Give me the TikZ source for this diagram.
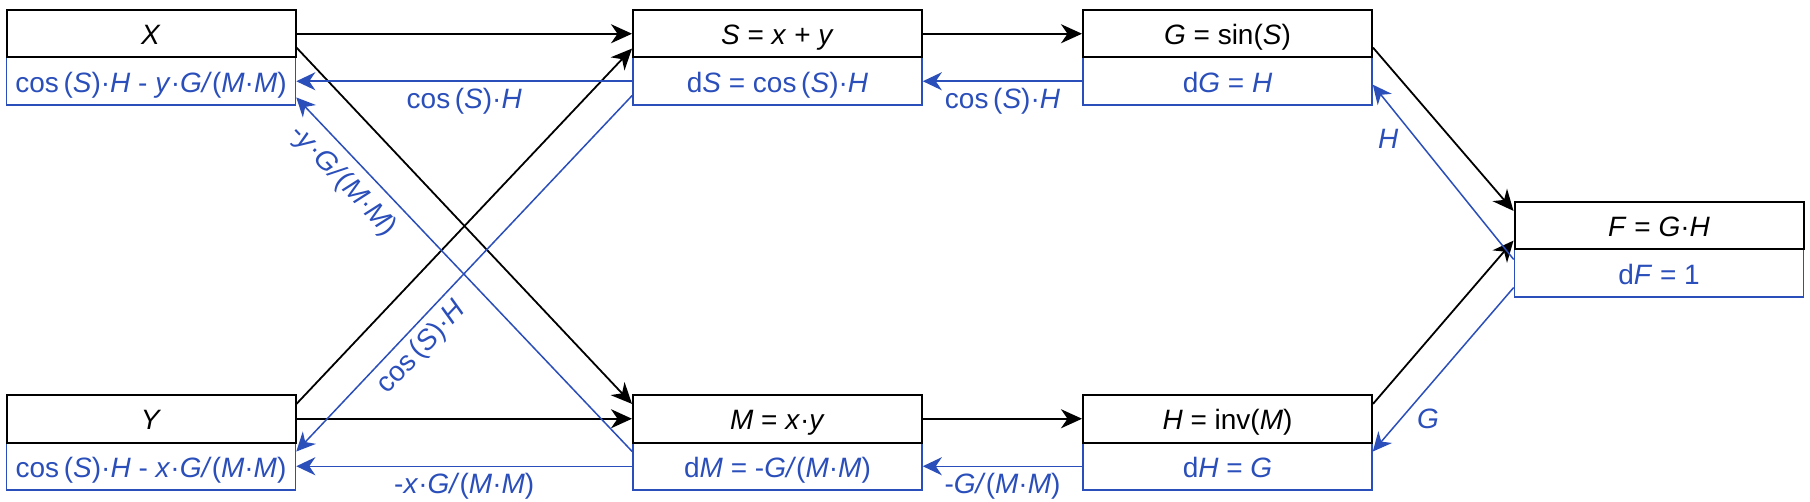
\documentclass[tikz,border=0pt]{standalone}
\usepackage{fontspec}
\setmainfont{Liberation Sans}
\usetikzlibrary{arrows.meta,calc}
\definecolor{bl}{HTML}{2A4EBA}
\newcommand\itv[1]{\textit{#1}}
\newcommand\bigf{\fontsize{28}{34}\selectfont}
\tikzset{
  toppart/.style={draw=black, line width=2pt, minimum width=289pt, minimum height=47.5pt,
    inner sep=0pt, text height=22pt, text depth=0pt, font=\bigf},
  botpart/.style={draw=bl, line width=1.6pt, minimum width=289pt, minimum height=47.5pt,
    inner sep=0pt, text height=22pt, text depth=0pt, text=bl, font=\bigf},
  fwd/.style={draw=black, line width=1.8pt, -{Stealth[length=21pt,width=19pt,inset=6.5pt]}},
  bwd/.style={draw=bl, line width=1.5pt, -{Stealth[length=19pt,width=18pt,inset=6pt,fill=bl]}},
  elabel/.style={text=bl, font=\bigf, inner sep=2pt, text height=22pt, text depth=0pt}
}
\begin{document}
\begin{tikzpicture}[x=1pt,y=-1pt]
\useasboundingbox (0,0) rectangle (1810,502);
% bottom (blue) parts
\node[botpart] (Xb) at (151,81.25) {cos\,(\itv{S})·\itv{H} - \itv{y}·\itv{G/}(\itv{M}·\itv{M})};
\node[botpart] (Sb) at (777.5,81.25) {d\itv{S} = cos\,(\itv{S})·\itv{H}};
\node[botpart] (Gb) at (1227.5,81.25) {d\itv{G} = \itv{H}};
\node[botpart] (Fb) at (1659,273.25) {d\itv{F} = 1};
\node[botpart] (Yb) at (151,466.25) {cos\,(\itv{S})·\itv{H} - \itv{x}·\itv{G/}(\itv{M}·\itv{M})};
\node[botpart] (Mb) at (777.5,466.25) {d\itv{M} = -\itv{G/}(\itv{M}·\itv{M})};
\node[botpart] (Hb) at (1227.5,466.25) {d\itv{H} = \itv{G}};
% top (black) parts
\node[toppart] (Xt) at (151,33.75) {\itv{X}};
\node[toppart] (St) at (777.5,33.75) {\itv{S} = \itv{x} + \itv{y}};
\node[toppart] (Gt) at (1227.5,33.75) {\itv{G} = sin(\itv{S})};
\node[toppart] (Ft) at (1659,225.75) {\itv{F} = \itv{G}·\itv{H}};
\node[toppart] (Yt) at (151,418.75) {\itv{Y}};
\node[toppart] (Mt) at (777.5,418.75) {\itv{M} = \itv{x}·\itv{y}};
\node[toppart] (Ht) at (1227.5,418.75) {\itv{H} = inv(\itv{M})};
% forward connectors
\draw[fwd] (Xt.east) -- (St.west);
\draw[fwd] ($(Xt.north east)!0.78!(Xt.south east)$) -- ($(Mt.north west)!0.2!(Mt.south west)$);
\draw[fwd] ($(Yt.north east)!0.2!(Yt.south east)$) -- ($(St.north west)!0.8!(St.south west)$);
\draw[fwd] (Yt.east) -- (Mt.west);
\draw[fwd] (St.east) -- (Gt.west);
\draw[fwd] (Mt.east) -- (Ht.west);
\draw[fwd] ($(Gt.north east)!0.78!(Gt.south east)$) -- ($(Ft.north west)!0.2!(Ft.south west)$);
\draw[fwd] ($(Ht.north east)!0.2!(Ht.south east)$) -- ($(Ft.north west)!0.8!(Ft.south west)$);
% backward connectors
\draw[bwd] (Sb.west) -- node[elabel, midway, yshift=-16pt] {cos\,(\itv{S})·\itv{H}} (Xb.east);
\draw[bwd] ($(Mb.north west)!0.2!(Mb.south west)$) -- node[elabel, sloped, pos=0.81, below=6pt] {-\itv{y}·\itv{G/}(\itv{M}·\itv{M})} ($(Xb.north east)!0.83!(Xb.south east)$);
\draw[bwd] ($(Sb.north west)!0.79!(Sb.south west)$) -- node[elabel, sloped, pos=0.67, below=3pt] {cos\,(\itv{S})·\itv{H}} ($(Yb.north east)!0.2!(Yb.south east)$);
\draw[bwd] (Mb.west) -- node[elabel, midway, yshift=-16pt] {-\itv{x}·\itv{G/}(\itv{M}·\itv{M})} (Yb.east);
\draw[bwd] (Gb.west) -- node[elabel, midway, yshift=-16pt] {cos\,(\itv{S})·\itv{H}} (Sb.east);
\draw[bwd] (Hb.west) -- node[elabel, midway, yshift=-16pt] {-\itv{G/}(\itv{M}·\itv{M})} (Mb.east);
\draw[bwd] ($(Fb.north west)!0.22!(Fb.south west)$) -- node[elabel, pos=0.7, left=14pt] {\itv{H}} ($(Gb.north east)!0.57!(Gb.south east)$);
\draw[bwd] ($(Fb.north west)!0.79!(Fb.south west)$) -- node[elabel, pos=0.79, right=12pt] {\itv{G}} ($(Hb.north east)!0.2!(Hb.south east)$);
\end{tikzpicture}
\end{document}
